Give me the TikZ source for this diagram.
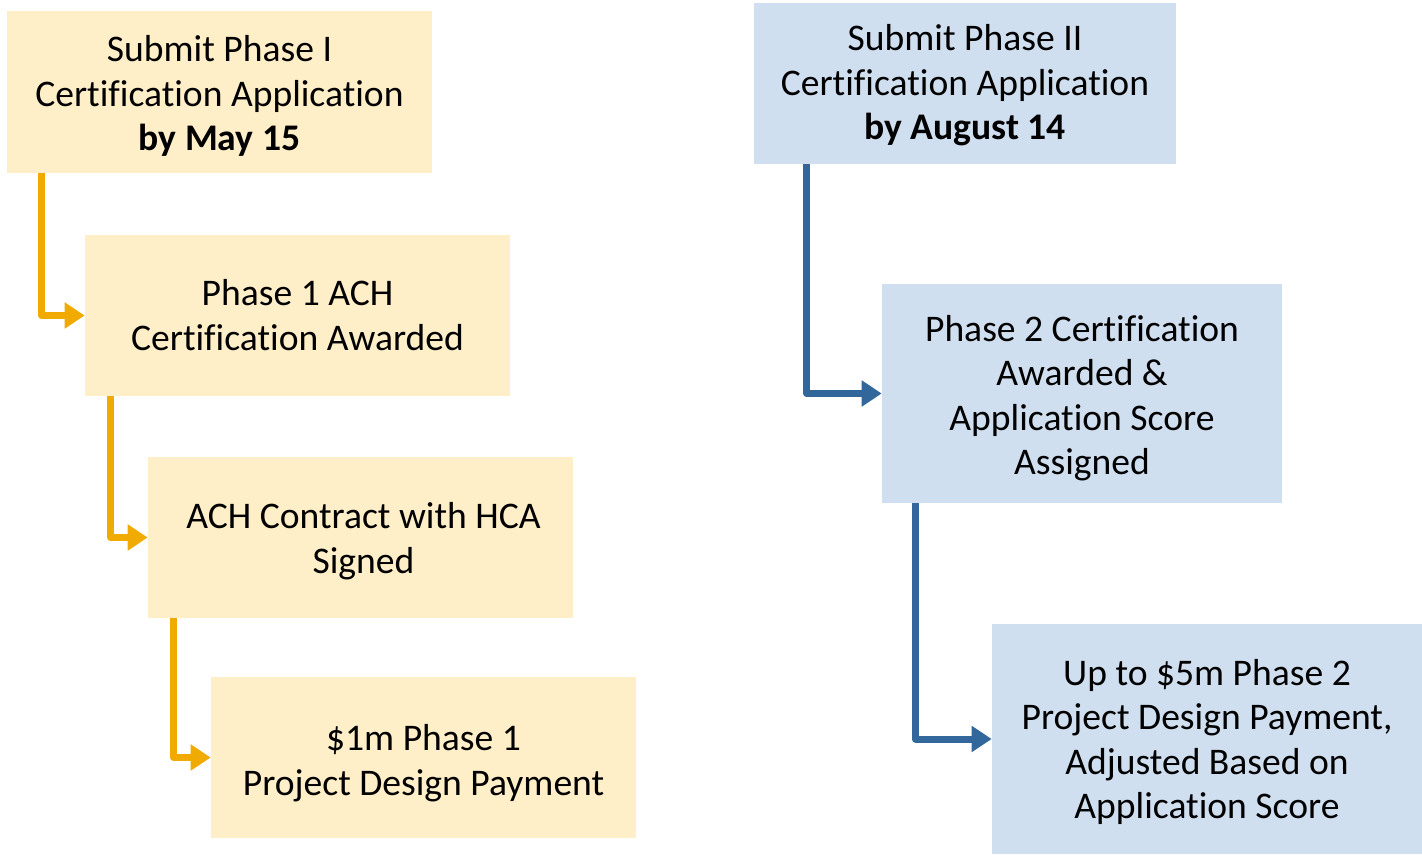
\documentclass[tikz,border=0pt]{standalone}
\usepackage{fontspec}
\setmainfont[Ligatures=NoCommon]{Carlito}
\usetikzlibrary{arrows.meta}
\definecolor{yfill}{HTML}{FFEFC9}
\definecolor{bfill}{HTML}{D0DFEF}
\definecolor{oline}{HTML}{F0AA00}
\definecolor{bline}{HTML}{31679A}
\tikzset{
  box/.style={fill=#1, draw=none, inner sep=0pt},
  txt/.style={align=center, inner sep=0pt, font=\fontsize{21.4}{25.35}\selectfont},
  conn/.style={draw=#1, line width=0.14cm, line join=round, -{Triangle[length=0.4cm,width=0.5cm]}},
}
\begin{document}
\begin{tikzpicture}[x=0.02cm,y=-0.02cm]
\useasboundingbox (0,0) rectangle (1422,857);
% left column
\node[box=yfill, minimum width=8.5cm, minimum height=3.24cm] (L1) at (219.5,92) {};
\node[box=yfill, minimum width=8.5cm, minimum height=3.22cm] (L2) at (297.5,315.5) {};
\node[box=yfill, minimum width=8.5cm, minimum height=3.22cm] (L3) at (360.5,537.5) {};
\node[box=yfill, minimum width=8.5cm, minimum height=3.22cm] (L4) at (423.5,757.5) {};
% right column
\node[box=bfill, minimum width=8.44cm, minimum height=3.22cm] (R1) at (965,83.5) {};
\node[box=bfill, minimum width=8.0cm, minimum height=4.38cm] (R2) at (1082,393.5) {};
\node[box=bfill, minimum width=8.6cm, minimum height=4.6cm] (R3) at (1207,739) {};
% texts
\node[txt] (L1t) at ([yshift=-0.08cm]L1.center) {Submit Phase I\\Certification Application\\\textbf{by May 15}};
\node[txt] (L2t) at ([yshift=0.01cm]L2.center) {Phase 1 ACH\\Certification Awarded};
\node[txt] (L3t) at ([xshift=0.06cm,yshift=-0.07cm]L3.center) {ACH Contract with HCA\\Signed};
\node[txt] (L4t) at ([yshift=-0.11cm]L4.center) {\$1m Phase 1\\Project Design Payment};
\node[txt] (R1t) at ([yshift=-0.04cm]R1.center) {Submit Phase II\\Certification Application\\\textbf{by August 14}};
\node[txt] (R2t) at ([yshift=-0.09cm]R2.center) {Phase 2 Certification\\Awarded \&\\Application Score\\Assigned};
\node[txt] (R3t) at ([yshift=-0.06cm]R3.center) {Up to \$5m Phase 2\\Project Design Payment,\\Adjusted Based on\\Application Score};
% connectors
\draw[conn=oline] ([xshift=0.7cm]L1.south west) |- (L2.west);
\draw[conn=oline] ([xshift=0.52cm]L2.south west) |- (L3.west);
\draw[conn=oline] ([xshift=0.52cm]L3.south west) |- (L4.west);
\draw[conn=bline] ([xshift=1.06cm]R1.south west) |- (R2.west);
\draw[conn=bline] ([xshift=0.68cm]R2.south west) |- (R3.west);
\end{tikzpicture}
\end{document}
